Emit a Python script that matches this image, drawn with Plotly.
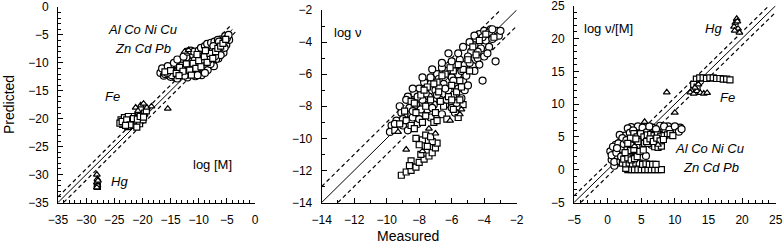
import plotly.graph_objects as go

# ---------------- data ----------------
# Panel 1: log [M]
P1_CIRCLES = [(-16.8,-11.8),(-16.2,-12.3),(-15.8,-11.2),(-15.3,-12.0),(-14.9,-10.8),(-14.6,-11.7),(-14.2,-12.6),
              (-13.9,-10.2),(-13.6,-11.3),(-13.2,-12.1),(-12.9,-9.6),(-12.6,-10.7),(-12.3,-11.8),(-12.0,-12.6),
              (-11.8,-8.4),(-11.5,-9.8),(-11.2,-10.9),(-10.9,-11.9),(-10.6,-12.4),(-10.4,-9.0),(-10.1,-10.3),
              (-9.8,-11.4),(-9.5,-12.2),(-9.3,-8.2),(-9.0,-9.5),(-8.7,-10.6),(-8.4,-11.3),(-8.2,-7.6),(-7.9,-8.7),
              (-7.6,-9.8),(-7.3,-10.6),(-7.0,-7.3),(-6.8,-8.3),(-6.5,-9.2),(-6.2,-6.6),(-5.9,-7.5),(-5.6,-8.2),
              (-5.4,-6.0),(-5.1,-6.8),(-4.8,-5.3),(-4.6,-5.9),(-11.0,-8.6),(-8.0,-6.9),(-6.0,-5.8),(-13.0,-10.5),
              (-15.0,-12.5),(-9.2,-10.0),(-10.7,-9.5),(-12.2,-9.0),(-7.5,-7.8),
              (-16.5,-11.0),(-15.5,-10.6),(-14.4,-10.0),(-13.8,-9.4),(-12.7,-8.9),(-12.0,-8.0),(-11.4,-7.8),
              (-10.8,-8.0),(-10.0,-7.8),(-9.6,-7.3),(-8.9,-7.0),(-8.5,-6.6),(-7.8,-6.4),(-7.2,-6.2),(-6.6,-5.9),
              (-5.8,-6.4),(-5.3,-5.2),(-5.0,-5.6),(-4.7,-5.0),(-6.4,-6.2),(-7.4,-7.0),(-8.6,-8.8),(-9.9,-10.8),
              (-11.4,-11.6),(-12.5,-12.3),(-13.8,-12.8),(-14.8,-12.2),(-10.2,-12.2),(-8.9,-11.8),(-7.9,-10.2),
              (-6.9,-9.3),(-6.1,-8.6),(-5.4,-7.3),(-16.0,-12.0),(-15.6,-11.8),(-13.4,-11.8),(-11.8,-10.5),
              (-10.6,-10.6),(-9.4,-9.4),(-8.1,-9.4),(-7.1,-8.8)]
P1_SQUARES = [(-16.0,-11.6),(-15.0,-11.4),(-14.0,-11.9),(-13.4,-10.8),(-12.8,-11.5),(-12.2,-10.2),(-11.6,-11.3),
              (-11.0,-10.1),(-10.5,-11.0),(-10.0,-9.6),(-9.6,-10.7),(-9.0,-8.9),(-8.5,-9.9),(-8.0,-8.3),(-7.5,-9.2),
              (-7.0,-8.0),(-6.6,-7.4),(-6.1,-7.0),(-5.7,-6.5),(-5.2,-5.8),(-13.5,-12.3),(-11.3,-12.2),(-8.8,-7.8),
              (-10.3,-8.5),
              (-23.8,-20.2),(-23.5,-21.0),(-23.2,-19.8),(-22.9,-20.6),(-22.6,-21.4),(-22.3,-20.0),(-22.0,-20.8),
              (-21.7,-19.6),(-21.4,-21.2),(-21.1,-20.4),(-20.8,-19.8),(-20.5,-20.9),(-20.2,-19.4),(-19.9,-20.2),
              (-19.6,-19.0),(-19.3,-18.6),(-24.0,-20.8),(-21.0,-21.5),(-22.5,-19.6),(-28.0,-32.1),
              (-23.6,-20.5),(-22.8,-20.2),(-22.2,-21.1),(-21.6,-20.0),(-20.9,-20.1),(-20.4,-19.6),(-19.8,-19.7),
              (-23.0,-21.2)]
P1_TRIANGLES = [(-12.5,-8.0),(-11.8,-7.7),
                (-21.2,-18.0),(-20.3,-17.6),(-19.8,-17.3),(-19.2,-18.0),(-18.4,-17.8),(-20.8,-18.6),(-15.5,-18.2),
                (-28.1,-30.0),(-28.0,-30.8),(-28.1,-31.4),(-28.0,-31.9),(-28.1,-32.3),(-27.9,-31.1)]

# Panel 2: log v
P2_CIRCLES = [(-4.3,-3.5),(-4.0,-3.3),(-3.8,-3.6),(-3.6,-3.2),(-3.4,-3.4),(-3.2,-3.3),(-3.1,-3.6),(-3.9,-3.9),
              (-4.5,-3.8),(-4.6,-4.2),(-4.2,-4.4),(-4.8,-4.6),(-5.0,-4.9),(-4.4,-5.0),(-5.2,-5.4),(-4.7,-5.5),
              (-5.5,-5.1),(-3.5,-3.8),(-3.3,-5.2),(-6.2,-4.7),(-4.1,-6.4),
              (-5.6,-6.0),(-5.3,-6.4),(-5.8,-5.5),(-6.0,-6.2),(-6.3,-5.8),(-6.6,-5.6),(-6.9,-6.0),(-7.3,-6.2),
              (-7.7,-6.5),(-8.0,-6.9),(-8.3,-7.2),(-6.5,-6.6),(-6.2,-7.0),(-5.9,-7.3),(-7.0,-7.0),(-7.4,-7.4),
              (-7.8,-7.6),(-8.2,-7.9),(-8.6,-8.1),(-8.9,-8.5),(-9.1,-8.4),(-9.4,-8.9),(-9.7,-9.2),(-8.4,-8.7),
              (-7.9,-8.5),(-7.5,-8.2),(-7.1,-7.9),(-6.7,-7.6),(-6.4,-7.9),(-6.0,-8.1),(-5.7,-7.8),(-5.4,-7.5),
              (-5.2,-7.0),(-5.0,-6.7),(-8.7,-7.4),(-7.6,-6.9),(-6.8,-6.3),(-9.0,-9.2),(-8.1,-9.1),(-7.3,-8.7),
              (-6.6,-8.5),(-5.8,-8.4),
              (-8.8,-7.6),(-8.4,-6.9),(-7.8,-6.2),(-7.2,-5.7),(-6.6,-5.3),(-6.0,-5.2),(-5.6,-4.7),(-5.3,-4.3),
              (-4.9,-4.0),(-4.6,-3.6),(-3.7,-3.4),(-3.0,-3.3),(-3.5,-3.2),(-4.1,-3.7),(-4.4,-4.6),(-4.9,-5.3),
              (-5.4,-5.8),(-5.9,-6.4),(-6.4,-6.9),(-6.9,-7.3),(-7.4,-7.9),(-7.9,-8.2),(-8.4,-8.3),(-9.0,-8.8),
              (-9.5,-9.1),(-8.7,-9.5),(-8.0,-8.8),(-7.2,-8.1),(-6.3,-7.6),(-5.6,-6.9),(-5.1,-6.1),(-4.6,-5.8),
              (-4.3,-5.4),(-4.0,-4.9),(-3.7,-4.3),(-3.8,-4.7),(-6.8,-6.8),(-7.6,-7.2),(-8.1,-7.4),(-9.2,-8.0),
              (-9.8,-9.6)]
P2_SQUARES = [(-9.5,-9.5),(-9.2,-9.1),(-8.8,-8.9),(-8.5,-9.2),(-8.2,-8.4),(-7.9,-7.3),(-7.6,-8.0),(-7.3,-7.6),
              (-7.0,-8.4),(-6.8,-7.1),(-6.5,-8.0),(-6.2,-7.4),(-6.0,-6.7),(-5.7,-7.1),(-5.5,-6.4),(-5.3,-7.9),
              (-5.6,-8.7),(-6.3,-8.8),(-7.1,-9.0),(-7.8,-9.0),(-8.5,-7.7),(-7.5,-6.8),(-6.9,-6.5),(-6.4,-6.0),
              (-5.9,-5.8),(-5.3,-5.7),(-4.9,-5.8),(-4.5,-4.8),(-3.9,-3.5),(-3.4,-3.7),
              (-8.9,-8.3),(-8.3,-7.8),(-7.7,-7.0),(-7.1,-6.6),(-6.6,-6.1),(-6.1,-5.6),(-5.6,-5.4),(-5.0,-5.1),
              (-4.7,-4.3),(-4.3,-3.9),(-6.7,-7.7),(-6.0,-7.6),(-5.4,-6.8),(-6.9,-8.9),(-7.6,-8.6),(-8.3,-9.4),
              (-5.9,-8.2),(-5.5,-7.6),
              (-9.1,-12.3),(-8.8,-12.1),(-8.5,-12.0),(-8.2,-11.8),(-8.0,-11.5),(-7.7,-11.3),(-7.4,-11.1),
              (-7.2,-10.9),(-7.0,-10.6),(-6.9,-10.3),(-7.2,-10.2),(-7.5,-10.5),(-7.8,-10.1),(-8.0,-10.4),
              (-8.2,-10.0),(-7.6,-9.8),(-7.3,-9.9),(-8.5,-11.4),(-8.6,-11.7),(-7.9,-11.0)]
P2_TRIANGLES = [(-8.8,-10.7),(-7.0,-9.7),(-7.8,-10.8),(-5.5,-8.5),(-5.4,-8.2),(-9.3,-9.6),(-6.1,-8.9),(-7.4,-9.4)]

# Panel 3: log v/[M]
P3_CIRCLES = [(0.4,2.8),(0.6,1.5),(0.9,2.3),(1.2,3.8),(1.5,1.8),(1.7,3.0),(2.0,4.3),(2.3,2.2),(2.6,5.2),(2.9,3.5),
              (3.2,1.2),(3.5,6.5),(3.6,4.6),(3.9,2.8),(4.2,5.8),(4.5,6.6),(4.8,3.9),(5.1,5.1),(5.4,6.0),(5.7,2.1),
              (6.0,4.6),(6.3,5.5),(6.7,6.4),(7.0,4.2),(7.4,5.8),(7.8,6.7),(8.2,5.3),(8.6,6.1),(9.0,6.6),(9.4,5.6),
              (9.8,6.2),(10.3,6.0),(10.8,6.4),(1.0,0.6),(2.8,0.8),(3.0,6.3),(4.0,4.2),(5.0,3.3),(6.5,3.8),(8.0,4.4),
              (1.8,5.3),(2.2,4.8),(0.8,3.5),(5.5,4.4),
              (0.6,2.2),(1.0,1.2),(1.3,2.6),(1.6,4.0),(1.9,1.3),(2.1,3.2),(2.4,3.9),(2.5,1.5),(2.8,4.5),(3.1,2.3),
              (3.3,5.6),(3.8,6.0),(4.3,3.5),(4.6,5.2),(5.2,6.4),(5.8,5.7),(6.2,6.6),(6.8,5.0),(7.2,6.2),(8.4,6.6),
              (9.2,6.1),(10.0,6.6),(10.6,5.8),(11.0,6.2),(2.0,2.0),(3.5,3.7),(4.4,2.4),(1.4,3.3)]
P3_SQUARES = [(3.0,0.0),(3.5,0.0),(4.0,0.0),(4.5,0.0),(5.0,0.0),(5.5,0.0),(6.0,0.0),(6.5,0.0),(7.0,0.0),(7.5,0.0),
              (8.0,0.0),(2.7,0.2),
              (2.2,1.0),(2.7,0.9),(3.2,1.0),(3.7,0.9),(4.2,1.0),(4.7,1.0),(5.2,0.8),(5.7,0.9),(6.2,0.8),(6.7,0.8),
              (7.2,0.8),
              (3.9,5.5),(4.4,5.0),(4.9,5.5),(5.4,5.0),(5.9,5.3),(6.4,5.4),(6.9,5.2),(7.4,5.3),(7.9,5.1),(8.4,5.2),
              (8.9,5.3),(3.4,4.8),(2.9,3.0),(3.4,2.9),(3.9,3.1),(7.0,3.5),(7.5,3.4),(8.0,3.6),(4.5,4.3),(5.5,4.0),
              (6.0,4.0),
              (2.4,1.6),(3.0,1.8),(3.5,1.5),(4.0,1.7),(4.4,2.0),(4.8,2.8),(5.3,3.0),(5.8,4.3),(6.3,4.7),(6.8,4.3),
              (7.3,4.8),(7.8,4.4),(8.3,4.6),(9.3,5.5),(9.7,5.2),(2.6,2.6),(3.0,4.0),(4.2,4.7),
              (13.2,13.8),(13.7,14.0),(14.2,14.0),(14.7,13.9),(15.2,14.0),(15.7,14.0),(16.2,13.9),(16.7,13.9),
              (17.2,13.8),(17.7,13.8),(18.2,13.7),(12.8,13.0),(13.3,12.6)]
P3_TRIANGLES = [(12.3,11.8),(12.8,11.6),(13.3,12.0),(13.8,11.7),(14.3,11.6),(14.8,11.7),(13.0,12.5),(13.5,13.0),
                (8.8,11.8),(10.0,8.7),(5.5,7.3),(7.5,3.8),(4.0,3.6),
                (19.2,23.0),(19.0,22.4),(18.8,21.8),(19.4,21.5),(19.6,20.9),(18.9,21.2),(19.3,22.6)]

# axis ranges, tick steps
RANGES = [(-35, 0), (-14, -2), (-5, 25)]
DTICKS = [5, 2, 5]
# 1:1 line extents (x start, x end) for solid, upper dashed, lower dashed
LINE_EXT = [
    [(-35, -4), (-35, -4.5), (-34, -3.5)],
    [(-14, -2), (-14, -3), (-13, -2)],
    [(-5, 25), (-5, 24), (-4, 25)],
]
OFFSET = 1

PANEL_TEXT = [
    [("<i>Al Co Ni Cu</i>", -19.9, -4.1), ("<i>Zn Cd Pb</i>", -19.9, -7.5), ("<i>Fe</i>", -25.4, -16.1),
     ("log [M]", -7.6, -28.2), ("<i>Hg</i>", -24.0, -31.2)],
    [("log ν", -12.4, -3.4)],
    [("log ν/[M]", 0.1, 21.6), ("<i>Hg</i>", 15.8, 21.6), ("<i>Fe</i>", 17.8, 11.0),
     ("<i>Al Co Ni Cu</i>", 15.2, 3.2), ("<i>Zn Cd Pb</i>", 15.4, 0.3)],
]

# ---------------- layout geometry ----------------
W, H = 783, 247
X_DOM = [(58, 255), (321.7, 516.7), (574, 775.7)]
Y_DOM = [(7, 202.5), (10, 202.5), (5.7, 202.5)]
FONT = "Liberation Sans, Arial, Helvetica, sans-serif"

fig = go.Figure()
panels = [
    (P1_CIRCLES, P1_SQUARES, P1_TRIANGLES),
    (P2_CIRCLES, P2_SQUARES, P2_TRIANGLES),
    (P3_CIRCLES, P3_SQUARES, P3_TRIANGLES),
]

for i, (circ, sq, tri) in enumerate(panels):
    xa = "x" if i == 0 else f"x{i+1}"
    ya = "y" if i == 0 else f"y{i+1}"
    (s0, s1), (u0, u1), (l0, l1) = LINE_EXT[i]
    fig.add_trace(go.Scatter(x=[s0, s1], y=[s0, s1], mode="lines", xaxis=xa, yaxis=ya,
                             line=dict(color="black", width=1), showlegend=False, hoverinfo="skip"))
    fig.add_trace(go.Scatter(x=[u0, u1], y=[u0 + OFFSET, u1 + OFFSET], mode="lines", xaxis=xa, yaxis=ya,
                             line=dict(color="black", width=1.2, dash="4px,3px"), showlegend=False, hoverinfo="skip"))
    fig.add_trace(go.Scatter(x=[l0, l1], y=[l0 - OFFSET, l1 - OFFSET], mode="lines", xaxis=xa, yaxis=ya,
                             line=dict(color="black", width=1.2, dash="4px,3px"), showlegend=False, hoverinfo="skip"))
    for pts, sym, size in ((circ, "circle", 7), (sq, "square", 6), (tri, "triangle-up", 6)):
        fig.add_trace(go.Scatter(x=[p[0] for p in pts], y=[p[1] for p in pts], mode="markers",
                                 xaxis=xa, yaxis=ya, showlegend=False,
                                 marker=dict(symbol=sym, size=size, color="white",
                                             line=dict(color="black", width=1.2))))
    for txt, tx, ty in PANEL_TEXT[i]:
        fig.add_annotation(text=txt, x=tx, y=ty, xref=xa, yref=ya, showarrow=False,
                           xanchor="center", yanchor="middle",
                           font=dict(family=FONT, size=13, color="black"))

    common = dict(showline=True, linecolor="black", linewidth=1, mirror=False, showgrid=False,
                  zeroline=False, ticks="inside", ticklen=5, tickwidth=1, tickcolor="black",
                  tickfont=dict(family=FONT, size=12, color="black"), ticklabeloverflow="allow",
                  automargin=False,
                  minor=dict(dtick=1, ticks="inside", ticklen=3, tickwidth=1, tickcolor="black"))
    lo, hi = RANGES[i]
    xkey = "xaxis" if i == 0 else f"xaxis{i+1}"
    ykey = "yaxis" if i == 0 else f"yaxis{i+1}"
    fig.update_layout({
        xkey: dict(common, range=[lo, hi], dtick=DTICKS[i], tick0=lo, anchor=ya,
                   domain=[X_DOM[i][0] / W, X_DOM[i][1] / W], ticklabelstandoff=6),
        ykey: dict(common, range=[lo, hi], dtick=DTICKS[i], tick0=lo, anchor=xa,
                   domain=[1 - Y_DOM[i][1] / H, 1 - Y_DOM[i][0] / H], ticklabelstandoff=6),
    })

fig.add_annotation(text="Predicted", x=9 / W, y=1 - 105 / H, xref="paper", yref="paper", textangle=-90,
                   xanchor="center", yanchor="middle",
                   showarrow=False, font=dict(family=FONT, size=14, color="black"))
fig.add_annotation(text="Measured", x=408 / W, y=1 - 236 / H, xref="paper", yref="paper",
                   xanchor="center", yanchor="middle",
                   showarrow=False, font=dict(family=FONT, size=14, color="black"))

fig.update_layout(width=W, height=H, margin=dict(l=0, r=0, t=0, b=0, autoexpand=False),
                  paper_bgcolor="white", plot_bgcolor="white", font=dict(family=FONT))
fig.write_html("out.html", config={"displayModeBar": False},
               post_script="document.body.style.margin='0px';document.body.style.overflow='hidden';")
